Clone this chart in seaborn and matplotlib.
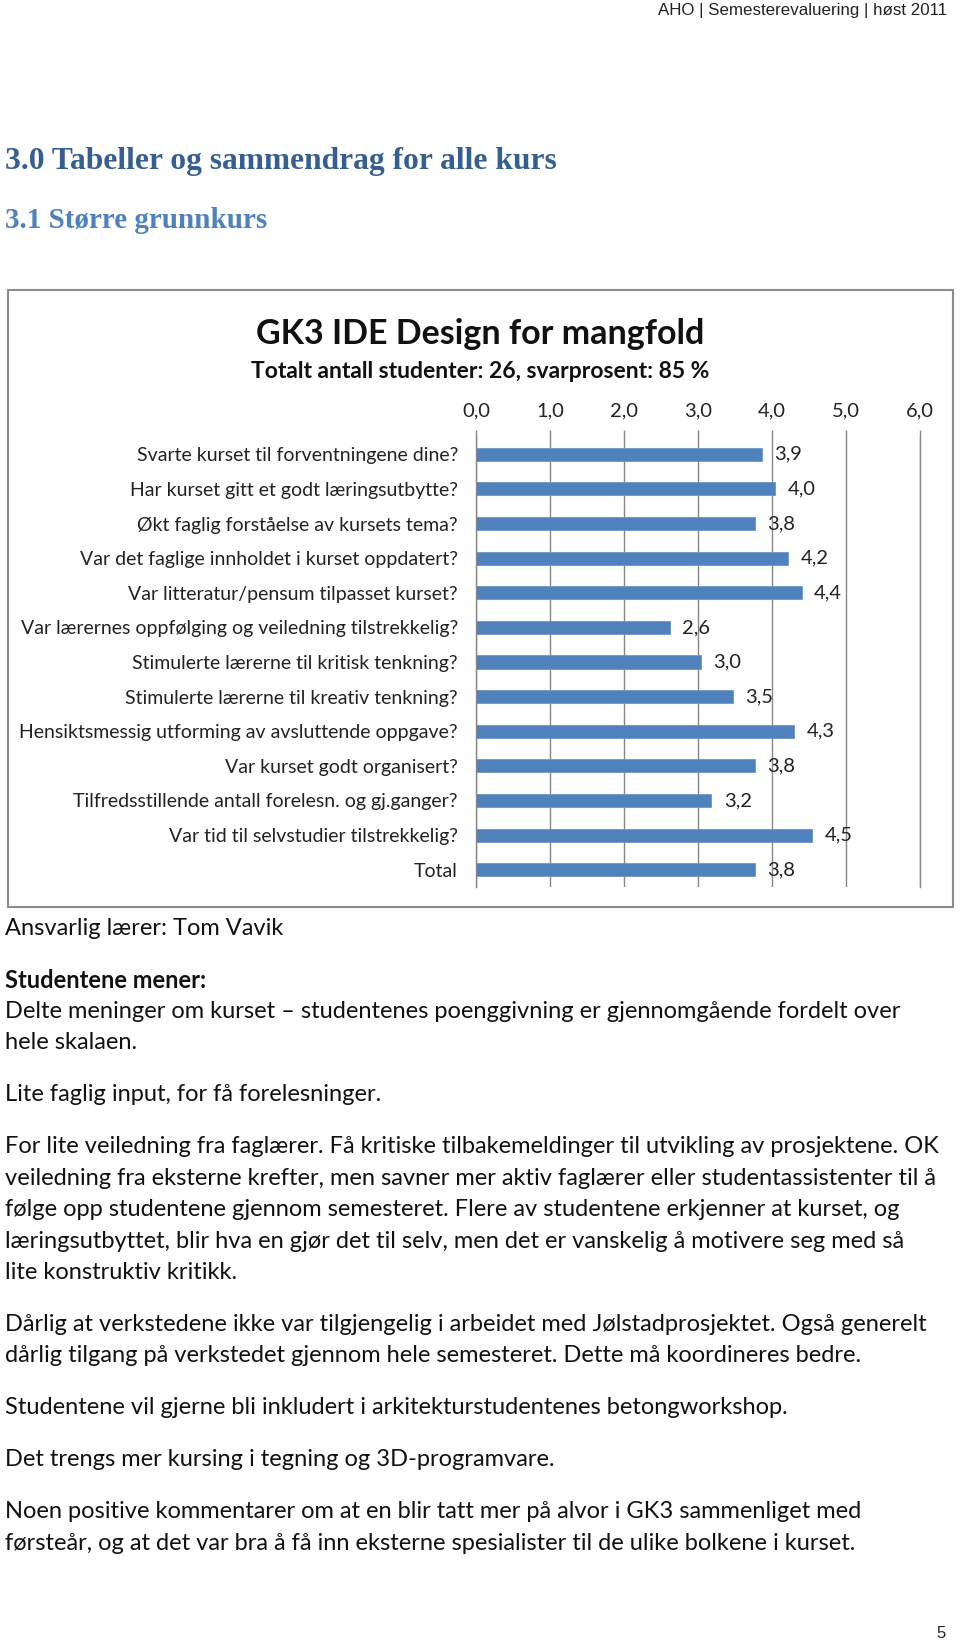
import matplotlib
matplotlib.use("Agg")
import matplotlib.pyplot as plt
import matplotlib.patches as mpatches
import seaborn as sns
import pandas as pd

# ---------------- data ----------------
questions = [
    "Svarte kurset til forventningene dine?",
    "Har kurset gitt et godt læringsutbytte?",
    "Økt faglig forståelse av kursets tema?",
    "Var det faglige innholdet i kurset oppdatert?",
    "Var litteratur/pensum tilpasset kurset?",
    "Var lærernes oppfølging og veiledning tilstrekkelig?",
    "Stimulerte lærerne til kritisk tenkning?",
    "Stimulerte lærerne til kreativ tenkning?",
    "Hensiktsmessig utforming av avsluttende oppgave?",
    "Var kurset godt organisert?",
    "Tilfredsstillende antall forelesn. og gj.ganger?",
    "Var tid til selvstudier tilstrekkelig?",
    "Total",
]
scores = [3.86, 4.04, 3.77, 4.22, 4.40, 2.62, 3.04, 3.47, 4.30, 3.77, 3.18, 4.54, 3.77]
x_ticks = [0, 1, 2, 3, 4, 5, 6]
x_tick_labels = ["0,0", "1,0", "2,0", "3,0", "4,0", "5,0", "6,0"]

header_text = "AHO | Semesterevaluering | høst 2011"
heading1 = "3.0 Tabeller og sammendrag for alle kurs"
heading2 = "3.1 Større grunnkurs"
chart_title = "GK3 IDE Design for mangfold"
chart_subtitle = "Totalt antall studenter: 26, svarprosent: 85 %"
teacher = "Ansvarlig lærer: Tom Vavik"
opinion_head = "Studentene mener:"
paragraphs = [
    ["Delte meninger om kurset \u2013 studentenes poenggivning er gjennomgående fordelt over",
     "hele skalaen."],
    ["Lite faglig input, for få forelesninger."],
    ["For lite veiledning fra faglærer. Få kritiske tilbakemeldinger til utvikling av prosjektene. OK",
     "veiledning fra eksterne krefter, men savner mer aktiv faglærer eller studentassistenter til å",
     "følge opp studentene gjennom semesteret. Flere av studentene erkjenner at kurset, og",
     "læringsutbyttet, blir hva en gjør det til selv, men det er vanskelig å motivere seg med så",
     "lite konstruktiv kritikk."],
    ["Dårlig at verkstedene ikke var tilgjengelig i arbeidet med Jølstadprosjektet. Også generelt",
     "dårlig tilgang på verkstedet gjennom hele semesteret. Dette må koordineres bedre."],
    ["Studentene vil gjerne bli inkludert i arkitekturstudentenes betongworkshop."],
    ["Det trengs mer kursing i tegning og 3D-programvare."],
    ["Noen positive kommentarer om at en blir tatt mer på alvor i GK3 sammenliget med",
     "førsteår, og at det var bra å få inn eksterne spesialister til de ulike bolkene i kurset."],
]
page_number = "5"

# ---------------- figure ----------------
W, H = 960, 1646
sns.set_theme(style="white")
plt.rcParams["font.family"] = ["Lato", "DejaVu Sans"]

fig = plt.figure(figsize=(W / 100, H / 100), dpi=100)
fig.patch.set_facecolor("white")


def fx(x):
    return x / W


def fy(y):
    return 1 - y / H


def ftext(x, y, s, **kw):
    fig.text(fx(x), fy(y), s, **kw)


narrow = ["Liberation Sans Narrow", "Liberation Sans", "DejaVu Sans"]
serif = ["Liberation Serif", "DejaVu Serif"]

# header & headings
ftext(947, 11, header_text, ha="right", va="center", fontsize=12.2, family=narrow, color="#222222")
ftext(5, 162, heading1, ha="left", va="center", fontsize=22.7, fontweight="bold",
      family=serif, color="#365F91")
ftext(5, 221, heading2, ha="left", va="center", fontsize=21, fontweight="bold",
      family=serif, color="#4F81BD")

# chart box
box = mpatches.Rectangle((fx(8), fy(907)), fx(953) - fx(8), fy(290) - fy(907),
                         transform=fig.transFigure, fill=False,
                         edgecolor="#8C8C8C", linewidth=1.5)
fig.add_artist(box)

ftext(480, 334, chart_title, ha="center", va="center", fontsize=24.5, fontweight="bold", color="#111111")
ftext(480, 372, chart_subtitle, ha="center", va="center", fontsize=16.5, fontweight="bold", color="#111111")

# axes
left, right, top, bottom = 476, 920, 437, 887
ax = fig.add_axes([fx(left), fy(bottom), fx(right) - fx(left), fy(top) - fy(bottom)])

df = pd.DataFrame({"question": questions, "score": scores})
sns.barplot(data=df, x="score", y="question", orient="h", color="#4F81BD",
            saturation=1, width=0.38, ax=ax, edgecolor="#6E95C8", linewidth=0.6)

ax.set_xlim(0, 6)
ax.set_ylim(len(questions) - 0.5, -0.5)
ax.set_xlabel("")
ax.set_ylabel("")
ax.xaxis.tick_top()
ax.set_xticks(x_ticks)
ax.set_xticklabels(x_tick_labels, fontsize=14.5, color="#222222")
ax.tick_params(axis="x", which="major", length=5, color="#868686", width=1, pad=8)
ax.grid(axis="x", color="#868686", linewidth=1)
ax.set_axisbelow(True)

ax.set_yticks(range(len(questions)))
ax.set_yticklabels(questions, fontsize=14, color="#222222")
ax.tick_params(axis="y", which="major", length=0, pad=13)
ax.set_yticks([i - 0.5 for i in range(len(questions) + 1)], minor=True)
ax.tick_params(axis="y", which="minor", length=5, color="#868686", width=1)

for s in ["top", "bottom"]:
    ax.spines[s].set_visible(False)
ax.spines["left"].set_color("#868686")
ax.spines["left"].set_linewidth(1)
ax.spines["right"].set_color("#868686")
ax.spines["right"].set_linewidth(1)

labels = [f"{v:.1f}".replace(".", ",") for v in scores]
ax.bar_label(ax.containers[0], labels=labels, padding=9, fontsize=14.5, color="#222222")

# body text
body_kw = dict(ha="left", va="center", fontsize=17, color="#111111")
ftext(5, 929, teacher, **body_kw)
ftext(5, 980, opinion_head, ha="left", va="center", fontsize=17, fontweight="bold", color="#111111")
y = 980 + 31.4
for para in paragraphs:
    for line in para:
        ftext(5, y, line, **body_kw)
        y += 31.4
    y += 52 - 31.4

ftext(941, 1633, page_number, ha="center", va="center", fontsize=12, family=narrow, color="#222222")

fig.savefig("out.png", dpi=100, facecolor="white")
